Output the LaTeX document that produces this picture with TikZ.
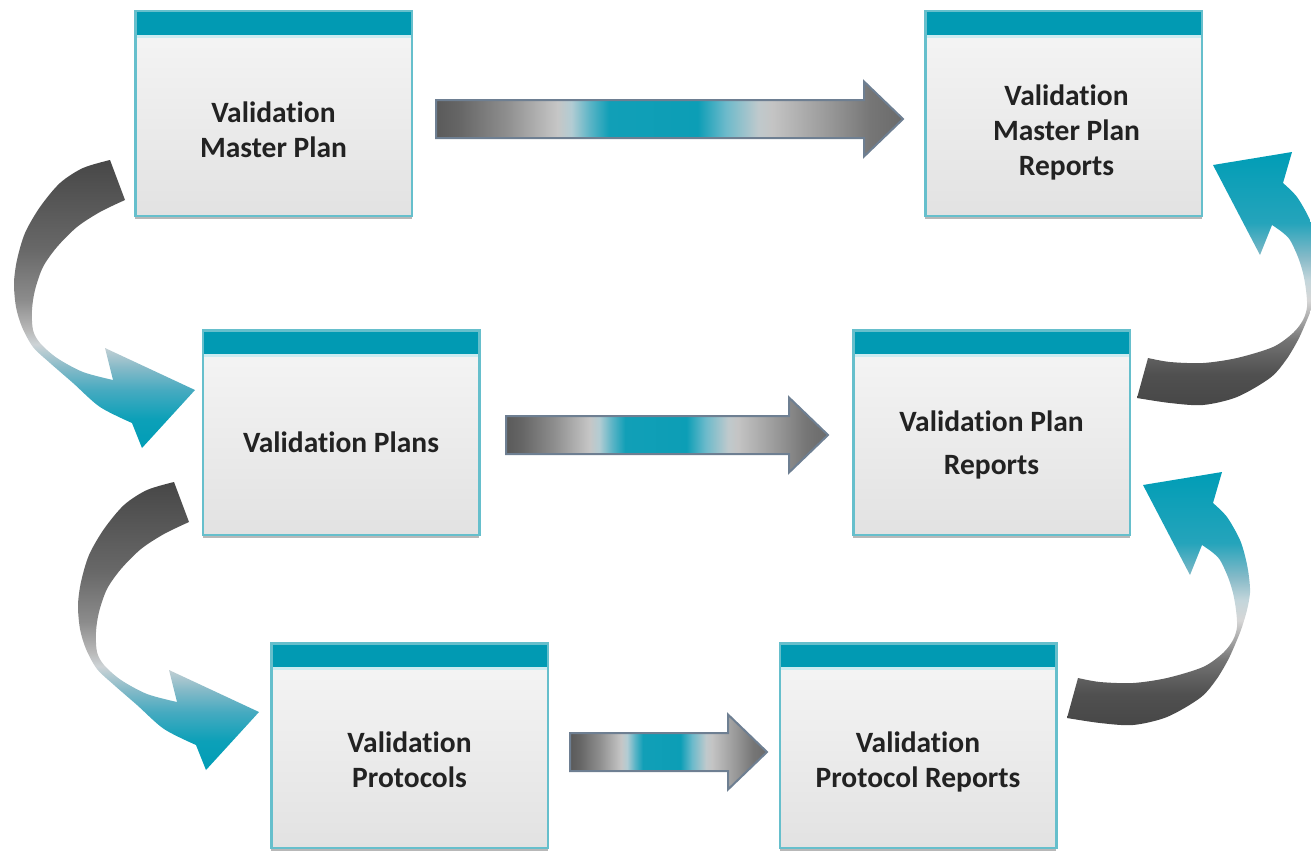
\documentclass[tikz,border=0pt]{standalone}
\usepackage{fontspec}
\setmainfont{Carlito}[Ligatures=NoCommon]
\usetikzlibrary{calc,shadows}

% palette
\definecolor{headteal}{HTML}{019AB3}
\definecolor{boxedge}{HTML}{66BFCC}
\definecolor{boxtop}{HTML}{F6F6F6}
\definecolor{boxbot}{HTML}{E2E2E2}
\definecolor{labelgray}{HTML}{222222}
\definecolor{flatedge}{HTML}{6E7F92}

% colours of the straight connector shading (tail to tip)
\definecolor{fa}{HTML}{5A5A5A}
\definecolor{fb}{HTML}{666666}
\definecolor{fc}{HTML}{8E8E8E}
\definecolor{fd}{HTML}{C6C6C6}
\definecolor{fe}{HTML}{B2CCD3}
\definecolor{ff}{HTML}{5AB4C6}
\definecolor{fg}{HTML}{119FB7}
\definecolor{fh}{HTML}{0C9EB6}
\definecolor{fi}{HTML}{6CBACB}
\definecolor{fj}{HTML}{BFC9CC}
\definecolor{fk}{HTML}{C4C4C4}
\definecolor{fl}{HTML}{959595}
\definecolor{fm}{HTML}{767676}
\definecolor{fn}{HTML}{6A6A6A}

% colours of the curved connector shadings
\definecolor{cdark}{HTML}{474747}
\definecolor{cdarkb}{HTML}{505050}
\definecolor{cmid}{HTML}{686868}
\definecolor{cmidb}{HTML}{727272}
\definecolor{cgray}{HTML}{8C8C8C}
\definecolor{cgrayb}{HTML}{A4A4A4}
\definecolor{clight}{HTML}{B8B8B8}
\definecolor{cpale}{HTML}{CDD3D6}
\definecolor{cpaleb}{HTML}{D6D6D6}
\definecolor{cpalec}{HTML}{C4D6DB}
\definecolor{ctealc}{HTML}{86BAC8}
\definecolor{ctealb}{HTML}{45AAC0}
\definecolor{ctealx}{HTML}{25A4BB}
\definecolor{cteala}{HTML}{0CA0B8}
\definecolor{cteal}{HTML}{009DB6}

\pgfdeclarehorizontalshading{flatshade}{100bp}{%
  color(0bp)=(fa); color(25bp)=(fa); color(27.5bp)=(fb); color(32.5bp)=(fc);
  color(38bp)=(fd); color(39.5bp)=(fe); color(41.5bp)=(ff); color(43.5bp)=(fg);
  color(53bp)=(fh); color(56bp)=(fi); color(59.5bp)=(fj); color(61bp)=(fk);
  color(67.5bp)=(fl); color(71.5bp)=(fm); color(75bp)=(fn); color(100bp)=(fn)}

% downward bend: teal at the bottom (head), dark at the top (tail)
\pgfdeclareverticalshading{downbend}{100bp}{%
  color(0bp)=(cteal); color(25bp)=(cteal); color(30bp)=(cteala);
  color(35bp)=(ctealb); color(39bp)=(ctealc); color(43bp)=(cpale);
  color(45.5bp)=(clight); color(50.7bp)=(cgray); color(59.5bp)=(cmid);
  color(75bp)=(cdark); color(100bp)=(cdark)}

% upward bend: dark at the bottom (tail), teal at the top (head)
\pgfdeclareverticalshading{upbend}{100bp}{%
  color(0bp)=(cdark); color(25bp)=(cdark); color(31.3bp)=(cdarkb);
  color(37.8bp)=(cmidb); color(41.8bp)=(cgrayb); color(45.75bp)=(cpaleb);
  color(49.7bp)=(cpalec); color(54.25bp)=(ctealc); color(61bp)=(ctealx);
  color(75bp)=(cteal); color(100bp)=(cteal)}

\tikzset{
  procbox/.style={draw=boxedge, line width=2.5pt,
    top color=boxtop, bottom color=boxbot,
    minimum width=276.5pt, minimum height=204.5pt, inner sep=0pt,
    drop shadow={shadow xshift=0pt, shadow yshift=-3.5pt, fill=black!28, opacity=1},
    path picture={
      \fill[headteal] (path picture bounding box.north west)
        rectangle ([yshift=-24pt]path picture bounding box.north east);
      \fill[white!80!headteal] ([yshift=-24pt]path picture bounding box.north west)
        rectangle ([yshift=-26.5pt]path picture bounding box.north east);
    }},
  boxlabel/.style={font=\bfseries\fontsize{29.5}{35}\selectfont, text=labelgray,
    align=center, inner sep=0pt},
  flatarrow/.style={shading=flatshade, draw=flatedge, line width=2pt, line join=miter},
  pics/bendleft/.style={code={
    \path[shading=downbend]
      (110,160) -- (125,200)
      -- plot[smooth] coordinates {(125,200) (100,212) (77,227) (57,247) (43,267)
           (35,290) (32,310) (33,330) (40,343) (57,358) (83,372) (113,380)}
      -- (105,348) -- (195,390) -- (142,448) -- (132,423)
      -- plot[smooth] coordinates {(132,423) (100,407) (73,383) (50,363) (33,347)
           (22,327) (16,307) (14,283) (17,260) (25,233) (40,207) (60,183) (83,168) (110,160)}
      -- cycle;
  }},
  pics/bendright/.style={code={
    \path[shading=upbend]
      (1078,678) -- (1067,718)
      -- plot[smooth] coordinates {(1067,718) (1100,723) (1133,725) (1167,717) (1200,698)
           (1216,680) (1228,660) (1237,640) (1242,627) (1247,610) (1250,593) (1249,577)
           (1246,560) (1240,540) (1227,517) (1213,503)}
      -- (1222,472) -- (1143,485) -- (1190,575) -- (1202,545)
      -- plot[smooth] coordinates {(1202,545) (1212,552) (1220,560) (1228,577) (1233,593)
           (1236,610) (1237,627) (1233,640) (1223,653) (1203,667) (1167,678) (1133,683)
           (1100,682) (1078,678)}
      -- cycle;
  }}
}

% straight block connector from tail coordinate #1 to tip coordinate #2
\newcommand{\flatconnector}[2]{%
  \path[flatarrow] ($(#1)+(0,-19)$) -- ($(#2)+(-39,-19)$) -- ($(#2)+(-39,-37.5)$)
    -- (#2) -- ($(#2)+(-39,37.5)$) -- ($(#2)+(-39,19)$) -- ($(#1)+(0,19)$) -- cycle;
}

\begin{document}
\begin{tikzpicture}[x=1pt, y=-1pt]
  \useasboundingbox (0,0) rectangle (1311,851);
  \clip (0,0) rectangle (1311,851);

  % curved connectors between the rows
  \pic (bendA) at (0,0) {bendleft};
  \pic (bendB) at (64,322) {bendleft};
  \pic (bendC) at (70,-320) {bendright};
  \pic (bendD) at (0,0) {bendright};

  % process boxes
  \node[procbox] (b1) at (273.5,113.5) {};
  \node[procbox] (b2) at (1063.5,113.5) {};
  \node[procbox] (b3) at (341,432.5) {};
  \node[procbox] (b4) at (991.5,432.5) {};
  \node[procbox] (b5) at (409.5,745.5) {};
  \node[procbox] (b6) at (918,745.5) {};

  \node[boxlabel] (t1) at ([yshift=-16pt]b1.center) {Validation\\Master Plan};
  \node[boxlabel] (t2) at ([xshift=3pt,yshift=-19pt]b2.center) {Validation\\Master Plan\\Reports};
  \node[boxlabel] (t3) at ([yshift=-10pt]b3.center) {Validation Plans};
  \node[boxlabel, font=\bfseries\fontsize{29.5}{43}\selectfont] (t4) at ([yshift=-12pt]b4.center) {Validation Plan\\Reports};
  \node[boxlabel] (t5) at ([yshift=-14pt]b5.center) {Validation\\Protocols};
  \node[boxlabel] (t6) at ([yshift=-16pt]b6.center) {Validation\\Protocol Reports};

  % straight connectors along each row
  \coordinate (a1s) at (436,119);  \coordinate (a1e) at (903,119);
  \coordinate (a2s) at (506,435);  \coordinate (a2e) at (828,435);
  \coordinate (a3s) at (570,752);  \coordinate (a3e) at (767,752);
  \flatconnector{a1s}{a1e}
  \flatconnector{a2s}{a2e}
  \flatconnector{a3s}{a3e}
\end{tikzpicture}
\end{document}
